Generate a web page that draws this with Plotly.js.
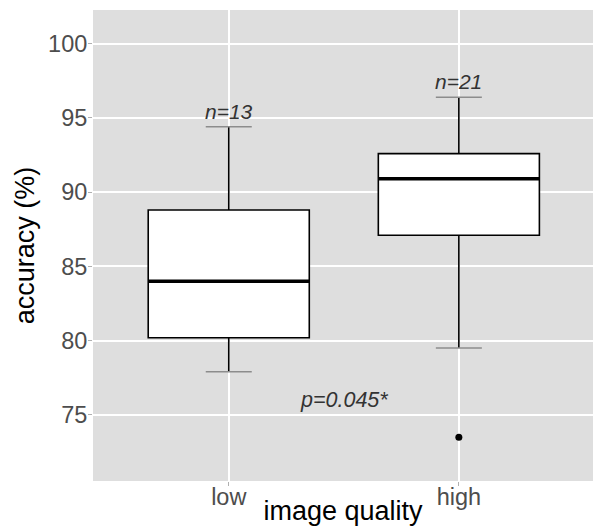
<!DOCTYPE html>
<html>
<head>
<meta charset="utf-8">
<script src="https://cdn.plot.ly/plotly-3.0.1.min.js"></script>
<style>html,body{margin:0;padding:0;background:#fff;}#chart{width:594px;height:526px;}</style>
</head>
<body>
<div id="chart"></div>
<script>
// Data
const categories = ['low', 'high'];
const q1Values = [80.2, 87.1];
const medianValues = [84.0, 90.9];
const q3Values = [88.8, 92.6];
const lowerWhisker = [77.9, 79.5];
const upperWhisker = [94.4, 96.4];
const outlierCategory = ['high'];
const outlierValues = [73.5];
const nLabels = ['n=13', 'n=21'];
const pLabel = 'p=0.045*';
const yTicks = [75, 80, 85, 90, 95, 100];

const xIdx = categories.map((c, i) => i);
const boxHalf = 0.35;
const capHalf = 0.1;

const traces = [];

// whisker caps (gray)
categories.forEach((c, i) => {
  [lowerWhisker[i], upperWhisker[i]].forEach(v => {
    traces.push({
      type: 'scatter', mode: 'lines',
      x: [i - capHalf, i + capHalf], y: [v, v],
      line: {color: '#8c8c8c', width: 1.5},
      hoverinfo: 'skip', showlegend: false
    });
  });
});

traces.push({
  type: 'box',
  x: xIdx,
  q1: q1Values,
  median: medianValues,
  q3: q3Values,
  lowerfence: lowerWhisker,
  upperfence: upperWhisker,
  width: boxHalf * 2,
  whiskerwidth: 0,
  fillcolor: '#ffffff',
  line: {color: '#000000', width: 1.6},
  boxpoints: false,
  hoverinfo: 'skip',
  showlegend: false
});

// thick median lines
categories.forEach((c, i) => {
  traces.push({
    type: 'scatter', mode: 'lines',
    x: [i - boxHalf, i + boxHalf], y: [medianValues[i], medianValues[i]],
    line: {color: '#000000', width: 3.5},
    hoverinfo: 'skip', showlegend: false
  });
});

// outlier
traces.push({
  type: 'scatter', mode: 'markers',
  x: outlierCategory.map(c => categories.indexOf(c)),
  y: outlierValues,
  marker: {color: '#000000', size: 7},
  hoverinfo: 'skip', showlegend: false
});

const annotations = categories.map((c, i) => ({
  x: i, y: upperWhisker[i], xref: 'x', yref: 'y',
  text: '<i>' + nLabels[i] + '</i>',
  showarrow: false, yanchor: 'bottom', yshift: 2,
  font: {family: 'Liberation Sans, Arial, sans-serif', size: 21, color: '#333333'}
}));
annotations.push({
  x: 0.5, y: 76, xref: 'x', yref: 'y',
  text: '<i>' + pLabel + '</i>',
  showarrow: false,
  font: {family: 'Liberation Sans, Arial, sans-serif', size: 21.5, color: '#333333'}
});

const layout = {
  width: 594, height: 526,
  margin: {l: 93, r: 1, t: 10, b: 45},
  paper_bgcolor: '#ffffff',
  plot_bgcolor: '#dedede',
  font: {family: 'Liberation Sans, Arial, sans-serif'},
  showlegend: false,
  xaxis: {
    range: [-0.59, 1.583],
    tickvals: xIdx,
    ticktext: categories,
    showgrid: true, gridcolor: '#ffffff', gridwidth: 2,
    zeroline: false, showline: false,
    ticks: 'outside', ticklen: 4, tickcolor: '#b0b0b0', tickwidth: 1,
    ticklabelstandoff: -9,
    tickfont: {size: 23.5, color: '#4d4d4d'},
    title: {text: 'image quality', font: {size: 27, color: '#000000'}, standoff: 3},
    automargin: false
  },
  yaxis: {
    range: [70.55, 102.27],
    tickvals: yTicks,
    showgrid: true, gridcolor: '#ffffff', gridwidth: 2,
    zeroline: false, showline: false,
    ticks: 'outside', ticklen: 4, tickcolor: '#b0b0b0', tickwidth: 1,
    ticklabelstandoff: -4,
    tickfont: {size: 23.5, color: '#4d4d4d'},
    title: {text: 'accuracy (%)', font: {size: 27, color: '#000000'}, standoff: 5},
    automargin: false
  },
  annotations: annotations
};

Plotly.newPlot('chart', traces, layout, {staticPlot: true, displayModeBar: false});
</script>
</body>
</html>
